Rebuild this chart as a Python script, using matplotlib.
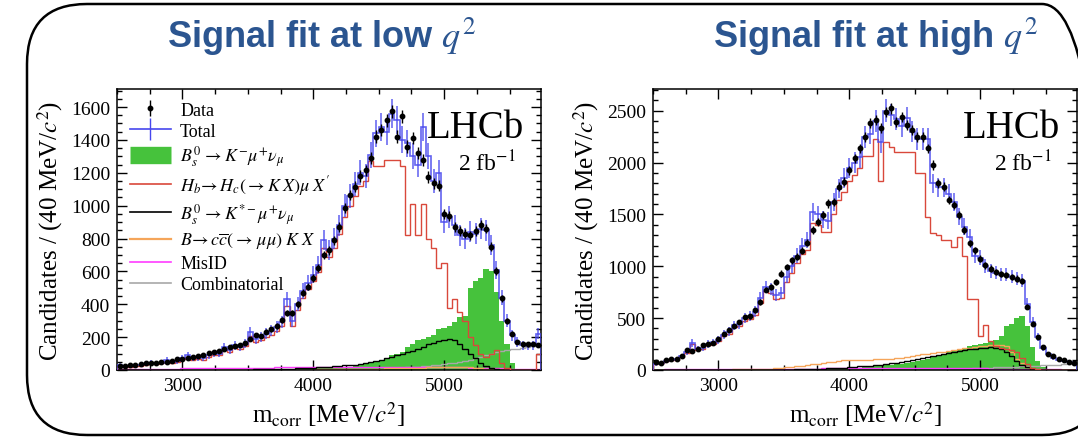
import numpy as np
import matplotlib
matplotlib.use("Agg")
import matplotlib.pyplot as plt
from matplotlib.lines import Line2D
from matplotlib.patches import FancyBboxPatch
from matplotlib.transforms import IdentityTransform

plt.rcParams.update({
    "font.family": "Liberation Serif", "mathtext.fontset": "stix",
    "font.size": 14, "axes.linewidth": 1.1,
})

# 40 MeV bins from 2500 MeV
edges = 2500 + 40 * np.arange(82)

# ---- low q2 ----
low_data = [24, 24, 28, 30, 34, 40, 40, 45, 49, 47,
            57, 65, 69, 71, 77, 85, 89, 101, 107, 118,
            130, 138, 146, 152, 166, 187, 213, 207, 233, 247,
            268, 304, 345, 349, 400, 470, 507, 558, 619, 700,
            729, 790, 870, 985, 1065, 1115, 1180, 1215, 1290, 1420,
            1460, 1520, 1575, 1420, 1545, 1360, 1410, 1320, 1280, 1175,
            1135, 1120, 950, 935, 870, 845, 830, 820, 845, 880,
            860, 750, 600, 435, 300, 220, 170, 155, 155, 160, 150]
low_total = [30, 20, 25, 30, 30, 35, 45, 40, 45, 60,
             50, 55, 75, 90, 70, 75, 70, 90, 100, 100,
             140, 120, 150, 140, 160, 230, 190, 200, 220, 240,
             260, 290, 430, 300, 400, 480, 530, 580, 640, 790,
             730, 800, 880, 1000, 1060, 1130, 1200, 1180, 1310, 1440,
             1480, 1450, 1560, 1520, 1400, 1380, 1300, 1250, 1480, 1300,
             1150, 1200, 900, 930, 880, 820, 800, 840, 830, 860,
             850, 760, 610, 440, 300, 210, 170, 150, 145, 150, 220]
low_sig = [0, 0, 0, 0, 0, 0, 0, 0, 0, 0,
           0, 0, 0, 0, 0, 0, 0, 0, 0, 0,
           0, 0, 0, 0, 0, 0, 0, 0, 1, 1,
           2, 3, 4, 5, 6, 7, 8, 9, 10, 12,
           10, 12, 14, 16, 20, 24, 30, 36, 44, 52,
           60, 70, 90, 100, 110, 140, 155, 180, 190, 200,
           210, 250, 255, 265, 290, 320, 330, 500, 540, 560,
           615, 600, 475, 300, 160, 40, 5, 0, 0, 0, 0]
low_hb = [25, 15, 20, 25, 25, 30, 40, 35, 40, 50,
          45, 50, 65, 80, 60, 65, 60, 80, 90, 90,
          125, 110, 135, 125, 145, 205, 170, 180, 200, 215,
          235, 265, 390, 270, 365, 440, 490, 540, 595, 740,
          690, 740, 830, 930, 1000, 1060, 1120, 1150, 1270, 1240,
          1240, 1280, 1280, 1280, 1240, 820, 1010, 820, 1010, 800,
          740, 620, 650, 380, 430, 350, 300, 200, 150, 100,
          80, 100, 120, 40, 10, 0, 0, 0, 0, 0, 100]
low_kst = [0, 0, 0, 0, 0, 0, 0, 0, 0, 0,
           0, 0, 0, 0, 0, 0, 0, 0, 0, 0,
           1, 1, 1, 2, 2, 2, 3, 3, 4, 4,
           5, 6, 7, 8, 9, 10, 12, 14, 16, 18,
           20, 22, 25, 28, 30, 33, 36, 42, 48, 55,
           62, 70, 78, 88, 98, 108, 118, 125, 140, 155,
           165, 175, 185, 190, 180, 160, 130, 100, 70, 45,
           25, 12, 5, 2, 0, 0, 0, 0, 0, 0, 0]
low_ccbar = [0, 0, 0, 0, 0, 0, 0, 0, 0, 0,
             0, 0, 0, 0, 0, 0, 0, 0, 0, 0,
             0, 0, 0, 0, 0, 0, 0, 0, 0, 0,
             1, 1, 1, 1, 2, 2, 2, 2, 3, 3,
             3, 3, 4, 4, 5, 5, 6, 6, 7, 8,
             8, 9, 10, 10, 11, 12, 12, 13, 14, 15,
             16, 17, 18, 18, 18, 17, 16, 15, 12, 10,
             8, 6, 4, 3, 2, 1, 0, 0, 0, 0, 0]
low_misid = [5, 5, 5, 6, 6, 6, 7, 7, 7, 8,
             8, 8, 9, 9, 9, 10, 10, 10, 11, 11,
             11, 12, 12, 12, 13, 13, 13, 14, 14, 14,
             15, 15, 15, 16, 16, 16, 17, 17, 17, 18,
             18, 18, 18, 19, 19, 19, 19, 20, 20, 20,
             20, 20, 20, 20, 20, 19, 19, 19, 18, 18,
             18, 17, 17, 16, 16, 15, 15, 14, 14, 13,
             12, 11, 10, 9, 8, 7, 6, 5, 5, 4, 4]
low_comb = [0, 0, 0, 0, 0, 0, 0, 0, 0, 0,
            0, 0, 0, 0, 0, 0, 0, 0, 0, 0,
            0, 0, 0, 0, 0, 0, 0, 0, 0, 0,
            0, 0, 0, 0, 0, 1, 1, 1, 1, 1,
            2, 2, 3, 3, 4, 4, 5, 5, 6, 7,
            8, 9, 10, 12, 14, 16, 18, 20, 22, 25,
            28, 32, 36, 40, 45, 50, 55, 62, 70, 80,
            90, 100, 110, 115, 120, 125, 130, 135, 140, 145, 150]

# ---- high q2 ----
high_data = [77, 68, 93, 109, 109, 132, 190, 183, 206, 238,
             254, 261, 302, 351, 389, 422, 463, 512, 518, 576,
             656, 776, 801, 850, 930, 994, 1059, 1091, 1149, 1226,
             1348, 1429, 1493, 1606, 1622, 1767, 1815, 1928, 2040, 2137,
             2249, 2378, 2410, 2330, 2491, 2523, 2394, 2442, 2362, 2314,
             2249, 2249, 2137, 1976, 1799, 1767, 1638, 1590, 1493, 1348,
             1220, 1155, 1075, 1010, 978, 946, 924, 914, 898, 882,
             859, 608, 447, 319, 222, 158, 132, 109, 93, 77, 68]
high_total = [60, 70, 90, 100, 105, 130, 170, 260, 200, 215,
              250, 265, 290, 340, 370, 430, 440, 500, 520, 560,
              690, 800, 780, 720, 740, 900, 1000, 1100, 1200, 1250,
              1520, 1500, 1450, 1440, 1620, 1750, 1850, 1950, 2000, 2050,
              2250, 2280, 2400, 2200, 2500, 2460, 2420, 2350, 2430, 2300,
              2230, 2230, 2230, 1800, 1760, 1760, 1700, 1620, 1480, 1380,
              1280, 1100, 1080, 1000, 950, 940, 920, 920, 900, 880,
              860, 640, 460, 320, 210, 150, 120, 100, 90, 80, 70]
high_sig = [0, 0, 0, 0, 0, 0, 0, 0, 0, 0,
            0, 0, 0, 0, 0, 0, 0, 0, 0, 0,
            0, 0, 0, 0, 1, 1, 1, 2, 2, 2,
            3, 4, 5, 6, 8, 10, 12, 15, 18, 22,
            26, 30, 35, 40, 45, 50, 55, 62, 70, 80,
            90, 100, 110, 125, 140, 155, 170, 185, 200, 215,
            230, 245, 255, 260, 270, 290, 330, 420, 440, 500,
            520, 420, 220, 90, 30, 5, 0, 0, 0, 0, 0]
high_hb = [60, 65, 85, 95, 100, 125, 160, 250, 190, 205,
           240, 250, 275, 325, 350, 410, 420, 470, 490, 530,
           650, 760, 740, 680, 690, 850, 940, 1030, 1120, 1160,
           1420, 1400, 1330, 1330, 1500, 1640, 1720, 1820, 1880, 1950,
           2060, 2060, 2230, 1820, 2200, 2150, 2100, 2100, 2100, 2100,
           1900, 1900, 1480, 1320, 1300, 1250, 1250, 1190, 1280, 1100,
           680, 680, 330, 430, 280, 230, 210, 200, 190, 170,
           120, 60, 20, 5, 0, 0, 0, 0, 0, 0, 0]
high_kst = [0, 0, 0, 0, 0, 0, 0, 0, 0, 0,
            0, 0, 0, 0, 0, 0, 0, 0, 0, 0,
            1, 1, 2, 2, 3, 3, 4, 5, 6, 8,
            10, 12, 14, 16, 18, 20, 23, 26, 30, 34,
            38, 42, 47, 52, 58, 64, 70, 78, 86, 95,
            105, 115, 125, 135, 145, 155, 165, 175, 185, 195,
            200, 205, 210, 215, 220, 215, 200, 170, 130, 90,
            50, 25, 10, 3, 0, 0, 0, 0, 0, 0, 0]
high_ccbar = [0, 0, 0, 0, 0, 0, 0, 0, 0, 0,
              2, 2, 3, 3, 4, 5, 5, 6, 7, 8,
              10, 12, 14, 17, 20, 24, 28, 35, 40, 45,
              55, 60, 65, 75, 80, 88, 92, 95, 95, 100,
              100, 100, 105, 105, 110, 110, 115, 120, 125, 135,
              140, 150, 155, 165, 170, 175, 180, 190, 200, 210,
              215, 225, 230, 235, 240, 240, 245, 230, 170, 110,
              70, 30, 10, 3, 0, 0, 0, 0, 0, 0, 0]
high_misid = [4, 4, 5, 5, 5, 6, 6, 6, 7, 7,
              7, 8, 8, 8, 9, 9, 9, 10, 10, 10,
              11, 11, 11, 12, 12, 12, 13, 13, 13, 14,
              14, 14, 15, 15, 15, 16, 16, 16, 17, 17,
              17, 18, 18, 18, 18, 19, 19, 19, 19, 19,
              19, 19, 19, 19, 18, 18, 18, 17, 17, 17,
              16, 16, 15, 15, 14, 14, 13, 13, 12, 12,
              11, 10, 9, 8, 7, 6, 5, 5, 4, 4, 4]
high_comb = [0, 0, 0, 0, 0, 0, 0, 0, 0, 0,
             0, 0, 0, 0, 0, 0, 0, 0, 0, 0,
             0, 0, 0, 0, 0, 0, 0, 0, 0, 0,
             0, 0, 0, 0, 0, 0, 0, 0, 0, 0,
             0, 0, 0, 0, 0, 0, 0, 0, 1, 1,
             2, 3, 4, 5, 6, 7, 8, 9, 10, 12,
             14, 16, 18, 20, 22, 24, 26, 28, 30, 32,
             35, 38, 40, 42, 45, 48, 50, 52, 55, 58, 60]

GREEN = "#46c23c"
RED = "#d9483b"
BLUE = "#4747ee"
ORANGE = "#f5a55a"
MAGENTA = "#ff3cff"
GREY = "#a8a8a8"
TITLE = "#2b5590"

fig = plt.figure(figsize=(10.78, 4.39), dpi=100)
ax1 = fig.add_axes([0.1085, 0.155, 0.3933, 0.640])
ax2 = fig.add_axes([0.6058, 0.155, 0.3933, 0.640])

centers = 0.5 * (edges[:-1] + edges[1:])


def draw(ax, data, total, sig, hb, kst, cc, mis, comb, ymax, ymaj, ymin):
    ax.stairs(sig, edges, fill=True, color=GREEN, zorder=1)
    ax.stairs(comb, edges, color=GREY, lw=1.0, zorder=2)
    ax.stairs(mis, edges, color=MAGENTA, lw=1.0, zorder=2)
    ax.stairs(cc, edges, color=ORANGE, lw=1.0, zorder=2)
    ax.stairs(kst, edges, color="black", lw=1.0, zorder=3)
    ax.stairs(hb, edges, color=RED, lw=1.0, zorder=3)
    tot = np.array(total, float)
    ax.stairs(tot, edges, color=BLUE, lw=1.2, alpha=0.85, zorder=4)
    ax.errorbar(centers, tot, yerr=2.2 * np.sqrt(tot), fmt="none",
                ecolor=BLUE, elinewidth=1.2, alpha=0.8, zorder=4)
    d = np.array(data, float)
    ax.errorbar(centers, d, yerr=np.sqrt(d), fmt="o", color="black",
                ms=3.2, elinewidth=1.0, zorder=5)
    ax.set_xlim(2500, 5740)
    ax.set_ylim(0, ymax)
    ax.set_xticks([3000, 4000, 5000])
    ax.set_xticks(np.arange(2500, 5741, 250), minor=True)
    ax.set_yticks(np.arange(0, ymax, ymaj))
    ax.set_yticks(np.arange(0, ymax, ymin), minor=True)
    ax.tick_params(which="both", direction="in", top=True, right=True,
                   labelsize=14, width=1.0)
    ax.tick_params(which="major", length=7, pad=5)
    ax.tick_params(which="minor", length=3.5)
    ax.set_xlabel(r"m$_{\rm corr}$ [MeV/$c^2$]", fontsize=18, labelpad=4)
    ax.set_ylabel(r"Candidates / (40 MeV/$c^2$)", fontsize=18, labelpad=4)
    ax.text(0.96, 0.93, "LHCb", transform=ax.transAxes, ha="right", va="top",
            fontsize=28)
    ax.text(0.94, 0.74, r"2 fb$^{-1}$", transform=ax.transAxes, ha="right",
            va="center", fontsize=17)


draw(ax1, low_data, low_total, low_sig, low_hb, low_kst, low_ccbar, low_misid,
     low_comb, 1710, 200, 50)
draw(ax2, high_data, high_total, high_sig, high_hb, high_kst, high_ccbar,
     high_misid, high_comb, 2710, 500, 100)

handles = [
    (Line2D([], [], color="black", marker="o", ms=3.2, ls="none"),
     Line2D([], [], color="black", marker="|", ms=12, ls="none")),
    (Line2D([], [], color=BLUE, lw=1.2),
     Line2D([], [], color=BLUE, marker="|", ms=16, ls="none")),
    Line2D([], [], color=GREEN, lw=12.5, solid_capstyle="butt"),
    Line2D([], [], color=RED, lw=1.2),
    Line2D([], [], color="black", lw=1.2),
    Line2D([], [], color=ORANGE, lw=1.6),
    Line2D([], [], color=MAGENTA, lw=1.2),
    Line2D([], [], color=GREY, lw=1.2),
]
labels = ["Data", "Total",
          r"$B_s^0\,\rightarrow K^{-}\mu^{+}\nu_{\mu}$",
          r"$H_b\!\rightarrow H_c(\rightarrow K\;X)\mu\;X'$",
          r"$B_s^0\,\rightarrow K^{*-}\mu^{+}\nu_{\mu}$",
          r"$B\!\rightarrow c\overline{c}(\rightarrow\,\mu\mu)\;K\;X$",
          "MisID", "Combinatorial"]
ax1.legend(handles, labels, loc="upper left", bbox_to_anchor=(0.0, 1.0),
           frameon=False, fontsize=13, handlelength=2.3, handletextpad=0.5,
           labelspacing=0.22, borderaxespad=0.3)

fig.text(0.298, 0.915, r"Signal fit at low $q^2$", ha="center", va="center",
         fontsize=26, fontweight="bold", color=TITLE, family="Liberation Sans")
fig.text(0.812, 0.915, r"Signal fit at high $q^2$", ha="center", va="center",
         fontsize=26, fontweight="bold", color=TITLE, family="Liberation Sans")

box = FancyBboxPatch((27, 3), 1075, 431, boxstyle="round,pad=0,rounding_size=60",
                     transform=IdentityTransform(), fill=False, ec="black", lw=1.8)
fig.add_artist(box)

fig.savefig("out.png", dpi=100)
